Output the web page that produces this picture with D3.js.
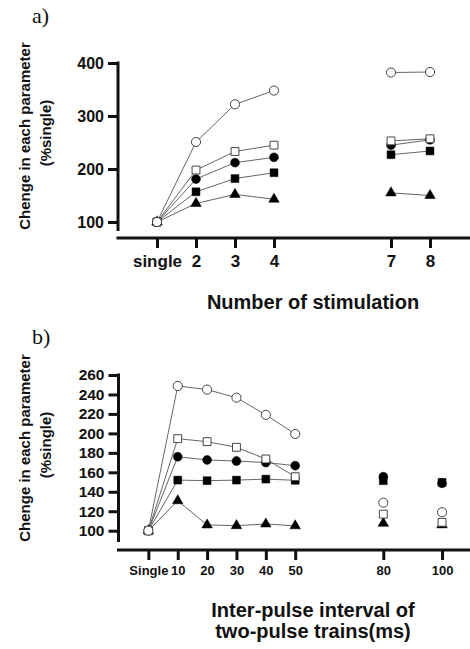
<!DOCTYPE html>
<html><head><meta charset="utf-8">
<script src="https://cdn.jsdelivr.net/npm/d3@7"></script>
<style>
body{margin:0;background:#fff;}
text{font-family:Arial,"Liberation Sans",sans-serif;font-weight:bold;fill:#111;}
</style></head>
<body>
<svg id="chart" width="470" height="649"></svg>
<script>
// ---------- Panel a data ----------
const aTicks = [1, 2, 3, 4, 7, 8];
const aTickLabels = ["single", "2", "3", "4", "7", "8"];
const aYTicks = [100, 200, 300, 400];
const aSegments = [[1, 2, 3, 4], [7, 8]];
const aOpenCircle   = [100, 251, 322, 348, 382, 383];
const aOpenSquare   = [100, 198, 233, 245, 253, 257];
const aFilledCircle = [100, 181, 212, 222, 245, 255];
const aFilledSquare = [100, 157, 182, 193, 227, 234];
const aTriangle     = [100, 135, 152, 143, 155, 150];

// ---------- Panel b data ----------
const bTicks = [0, 10, 20, 30, 40, 50, 80, 100];
const bTickLabels = ["Single", "10", "20", "30", "40", "50", "80", "100"];
const bYTicks = [100, 120, 140, 160, 180, 200, 220, 240, 260];
const bSegments = [[0, 10, 20, 30, 40, 50], [80], [100]];
const bOpenCircle   = [100, 248.7, 245, 236.7, 219, 199.4, 128.8, 119];
const bOpenSquare   = [100, 194.6, 191.5, 185.7, 173.7, 155.5, 117, 108.6];
const bFilledCircle = [100, 176, 172.7, 171.6, 170, 166.8, 155.5, 148.7];
const bFilledSquare = [100, 152, 151.4, 152, 153, 151.8, 151.4, 149.7];
const bTriangle     = [100, 130.8, 105.9, 105.2, 106.9, 105, 107.6, 106];

const svg = d3.select("#chart");

const seriesDefs = [
  {key: "triangle", sym: d3.symbolTriangle, size: 48, fill: "#000"},
  {key: "filledSquare", sym: d3.symbolSquare, size: 62, fill: "#000"},
  {key: "filledCircle", sym: d3.symbolCircle, size: 62, fill: "#000"},
  {key: "openSquare", sym: d3.symbolSquare, size: 62, fill: "#fff"},
  {key: "openCircle", sym: d3.symbolCircle, size: 66, fill: "#fff"}
];

function panel(cfg) {
  const g = svg.append("g");
  const x = d3.scaleLinear().domain(cfg.xDomain).range(cfg.xRange);
  const y = d3.scaleLinear().domain(cfg.yDomain).range(cfg.yRange);

  // y axis
  const ya = g.append("g").attr("transform", `translate(${cfg.yAxisX},0)`)
    .call(d3.axisLeft(y).tickValues(cfg.yTicks).tickSize(10).tickPadding(4));
  ya.select(".domain").remove();
  ya.selectAll(".tick line").attr("stroke", "#111").attr("stroke-width", 3);
  ya.selectAll(".tick text").style("font-size", cfg.yFont + "px").attr("fill", "#111");
  g.append("line").attr("x1", cfg.yAxisX).attr("x2", cfg.yAxisX)
    .attr("y1", y(cfg.yDomain[1]) - 1.5).attr("y2", cfg.yAxisBottom)
    .attr("stroke", "#111").attr("stroke-width", 3);

  // x axis
  const xa = g.append("g").attr("transform", `translate(0,${cfg.xAxisY})`)
    .call(d3.axisBottom(x).tickValues(cfg.xTicks).tickSize(10)
      .tickFormat((d, i) => cfg.xTickLabels[i]));
  xa.select(".domain").remove();
  xa.selectAll(".tick line").attr("stroke", "#111").attr("stroke-width", 3);
  xa.selectAll(".tick text").style("font-size", cfg.xFont + "px")
    .attr("y", cfg.xLabelDy).attr("dy", 0).attr("fill", "#111");
  g.append("line").attr("x1", cfg.yAxisX - 1.5).attr("x2", 470)
    .attr("y1", cfg.xAxisY).attr("y2", cfg.xAxisY)
    .attr("stroke", "#111").attr("stroke-width", 3);

  // lines
  const line = d3.line().x(d => x(d[0])).y(d => y(d[1]));
  seriesDefs.forEach(s => {
    const vals = cfg.series[s.key];
    cfg.segments.forEach(seg => {
      if (seg.length < 2) return;
      const pts = seg.map(v => [v, vals[cfg.xTicks.indexOf(v)]]);
      g.append("path").attr("d", line(pts)).attr("fill", "none")
        .attr("stroke", "#555").attr("stroke-width", 0.9);
    });
  });
  // markers
  seriesDefs.forEach(s => {
    const vals = cfg.series[s.key];
    g.append("g").selectAll("path").data(cfg.xTicks).join("path")
      .attr("transform", (d, i) => `translate(${x(d)},${y(vals[i])})`)
      .attr("d", d3.symbol().type(s.sym).size(s.size))
      .attr("fill", s.fill).attr("stroke", s.fill === "#fff" ? "#333" : "#000")
      .attr("stroke-width", s.fill === "#fff" ? 0.9 : 0.5);
  });

  // y title
  g.append("text").attr("transform", `translate(24,${cfg.yTitleY}) rotate(-90)`)
    .attr("text-anchor", "middle").attr("dominant-baseline", "central")
    .style("font-size", "15px").text("Chenge in each parameter");
  g.append("text").attr("transform", `translate(45,${cfg.yTitleY - 3}) rotate(-90)`)
    .attr("text-anchor", "middle").attr("dominant-baseline", "central")
    .style("font-size", "15px").text("(%single)");

  // x title
  cfg.xTitle.forEach((t, i) => {
    g.append("text").attr("x", cfg.xTitleX).attr("y", cfg.xTitleY + i * 21)
      .attr("text-anchor", "middle").style("font-size", "20px").text(t);
  });

  // panel label
  g.append("text").attr("x", 32).attr("y", cfg.labelY)
    .style("font-family", "'Liberation Serif','Times New Roman',serif")
    .style("font-weight", "normal").style("font-size", "22px").text(cfg.label);
}

panel({
  xDomain: [0, 9], xRange: [118, 469],
  yDomain: [100, 400], yRange: [222, 63],
  yTicks: aYTicks, xTicks: aTicks, xTickLabels: aTickLabels,
  yAxisX: 118, yAxisBottom: 231, xAxisY: 238, xLabelDy: 28.5,
  yFont: 16, xFont: 17,
  segments: aSegments,
  series: {openCircle: aOpenCircle, openSquare: aOpenSquare, filledCircle: aFilledCircle,
           filledSquare: aFilledSquare, triangle: aTriangle},
  yTitleY: 136, xTitle: ["Number of stimulation"], xTitleX: 313, xTitleY: 309,
  label: "a)", labelY: 23
});

panel({
  xDomain: [-10, 110], xRange: [119, 471.4],
  yDomain: [100, 260], yRange: [530.7, 375],
  yTicks: bYTicks, xTicks: bTicks, xTickLabels: bTickLabels,
  yAxisX: 118.5, yAxisBottom: 542, xAxisY: 550, xLabelDy: 25,
  yFont: 15.5, xFont: 13,
  segments: bSegments,
  series: {openCircle: bOpenCircle, openSquare: bOpenSquare, filledCircle: bFilledCircle,
           filledSquare: bFilledSquare, triangle: bTriangle},
  yTitleY: 448, xTitle: ["Inter-pulse interval of", "two-pulse trains(ms)"], xTitleX: 313, xTitleY: 617,
  label: "b)", labelY: 344
});
</script>
</body></html>
